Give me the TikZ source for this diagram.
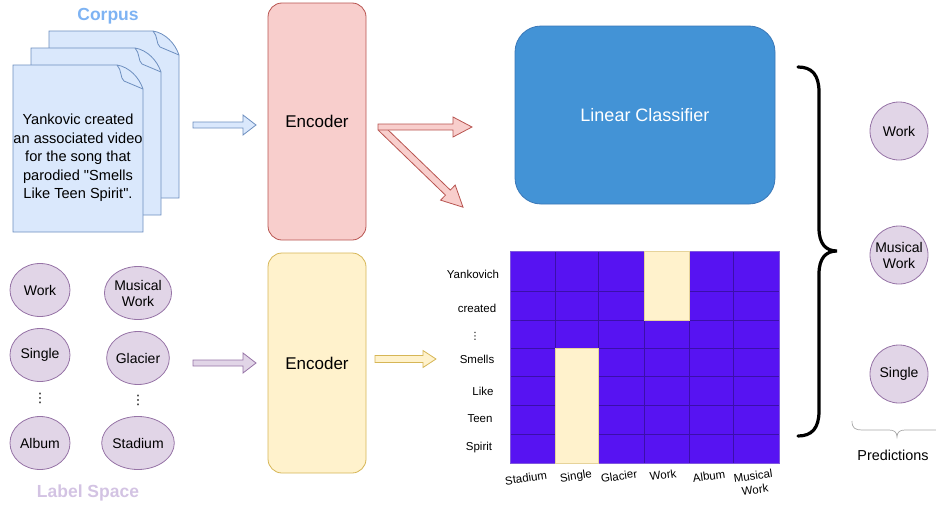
\documentclass[tikz,border=0pt]{standalone}
\usepackage{fontspec}
\setmainfont{Liberation Sans}[Ligatures=TeXOff]
\newfontfamily\dejavu{DejaVu Sans}
\usetikzlibrary{shapes.geometric}
\definecolor{docfill}{HTML}{DAE8FC}
\definecolor{docdraw}{HTML}{6C8EBF}
\definecolor{redfill}{HTML}{F8CECC}
\definecolor{reddraw}{HTML}{B85450}
\definecolor{yelfill}{HTML}{FFF2CC}
\definecolor{yeldraw}{HTML}{D6B656}
\definecolor{purfill}{HTML}{E1D5E7}
\definecolor{purdraw}{HTML}{9673A6}
\definecolor{clsfill}{HTML}{4393D6}
\definecolor{clsdraw}{HTML}{3A78B8}
\definecolor{cellfill}{HTML}{5713F2}
\definecolor{celldraw}{HTML}{3B0FAA}
\definecolor{corpuscol}{HTML}{7EB3F3}
\definecolor{labelcol}{HTML}{D3C3E3}
\newcommand\blockarrow[7]{%
  \begin{scope}[shift={(#2)},rotate=#3]
    \draw[#1] (0,-#5) -- ({#4-#7},-#5) -- ({#4-#7},-#6) -- (#4,0) -- ({#4-#7},#6) -- ({#4-#7},#5) -- (0,#5) -- cycle;
  \end{scope}}
\newcommand\docpage[2]{%
  \begin{scope}[shift={(#1,#2)}]
    \draw[docbox] (0,0) -- (104,0) .. controls (116,2) and (126,12) .. (130,24) -- (130,167) -- (0,167) -- cycle;
    \draw[docdraw, line width=0.8] (104,0) .. controls (109,5) and (107,13) .. (111,16) -- (130,24);
  \end{scope}}
\tikzset{
  docbox/.style={fill=docfill, draw=docdraw, line width=0.8},
  bluearr/.style={fill=docfill, draw=docdraw, line width=0.8},
  redarr/.style={fill=redfill, draw=reddraw, line width=0.8},
  yelarr/.style={fill=yelfill, draw=yeldraw, line width=0.8},
  purarr/.style={fill=purfill, draw=purdraw, line width=0.8},
  encred/.style={rectangle, rounded corners=14, fill=redfill, draw=reddraw, line width=0.8,
    minimum width=98, minimum height=237, font=\fontsize{17}{20}\selectfont},
  encyel/.style={rectangle, rounded corners=14, fill=yelfill, draw=yeldraw, line width=0.8,
    minimum width=98, minimum height=220, font=\fontsize{17}{20}\selectfont},
  lcirc/.style={ellipse, fill=purfill, draw=purdraw, line width=0.8, minimum width=60,
    minimum height=53, inner sep=0, align=center, font=\fontsize{14}{16}\selectfont},
  pcirc/.style={circle, fill=purfill, draw=purdraw, line width=0.8, minimum size=58,
    inner sep=0, align=center, font=\fontsize{14}{16}\selectfont},
  vdotsnode/.style={inner sep=0, font=\dejavu\fontsize{13}{14}\selectfont},
  rowlab/.style={font=\fontsize{11.5}{13}\selectfont, inner sep=0},
  collab/.style={font=\fontsize{11.5}{14}\selectfont, inner sep=0, rotate=8, align=center},
  title/.style={font=\fontsize{17.5}{20}\selectfont\bfseries},
}
\begin{document}
\begin{tikzpicture}[x=1pt,y=-1pt]
\useasboundingbox (0,0) rectangle (936,506);

% corpus
\node[title, text=corpuscol] (corpus) at (108,16) {Corpus};
\docpage{49}{31}
\docpage{31}{48}
\docpage{13}{65}
\node[align=center, font=\fontsize{14.6}{18.5}\selectfont] (doctext) at (78,158)
  {Yankovic created\\an associated video\\for the song that\\parodied "Smells\\Like Teen Spirit".};

% label space
\node[lcirc] (lwork) at (40,290) {Work};
\node[lcirc] (lsingle) at (40,355) {Single};
\node[vdotsnode] (ldots1) at (40,398) {⋮};
\node[lcirc] (lalbum) at (40,443) {Album};
\node[lcirc] (lmusical) at (138,293) {Musical\\Work};
\node[lcirc] (lglacier) at (138,358) {Glacier};
\node[vdotsnode] (ldots2) at (138,400) {⋮};
\node[lcirc] (lstadium) at (138,443) {Stadium};
\node[title, text=labelcol] (lspace) at (88,493) {Label Space};

% encoders
\node[encred] (enc1) at (317,121.5) {Encoder};
\node[encyel] (enc2) at (317,363) {Encoder};

% block arrows
\coordinate (ba1) at (193,125);
\coordinate (ba2) at (193,363);
\coordinate (ba3) at (375,359);
\coordinate (ba4) at (378,127);
\coordinate (ba5) at (381,128);
\blockarrow{bluearr}{ba1}{0}{63}{3}{10}{13}
\blockarrow{purarr}{ba2}{0}{63}{3}{10}{13}
\blockarrow{yelarr}{ba3}{0}{61}{3.5}{8.5}{13}
\blockarrow{redarr}{ba5}{-44}{114}{3.5}{10.5}{21}
\blockarrow{redarr}{ba4}{0}{94}{3}{10}{19}

% linear classifier
\node[rectangle, rounded corners=26, fill=clsfill, draw=clsdraw, line width=0.8,
  minimum width=260, minimum height=178, text=white, font=\fontsize{18}{21}\selectfont]
  (cls) at (645,115) {Linear Classifier};

% heatmap
\fill[cellfill] (510,251) rectangle (779,463);
\foreach \x in {555.3,598.7,644.3,689.7,733.3}
  \draw[celldraw, line width=0.9] (\x,251) -- (\x,463);
\foreach \y in {291.5,320.3,348.3,376.7,405,434}
  \draw[celldraw, line width=0.9] (510,\y) -- (779,\y);
\draw[draw=celldraw!50!cellfill!70!white, line width=0.9] (510,251) rectangle (779,463);
\draw[fill=yelfill, draw=yeldraw!60!white, line width=0.8] (644.3,251) rectangle (689.7,320.3);
\draw[fill=yelfill, draw=yeldraw!60!white, line width=0.8] (555.3,348.3) rectangle (598.7,463);
\node[rowlab] (r1) at (473,274) {Yankovich};
\node[rowlab] (r2) at (477,308) {created};
\node[inner sep=0, font=\dejavu\fontsize{10}{11}\selectfont] (r3) at (475,336) {⋮};
\node[rowlab] (r4) at (477,359) {Smells};
\node[rowlab] (r5) at (483,391) {Like};
\node[rowlab] (r6) at (480,419) {Teen};
\node[rowlab] (r7) at (479,448) {Spirit};
\node[collab] (c1) at (526,478) {Stadium};
\node[collab] (c2) at (576,477) {Single};
\node[collab] (c3) at (619,476) {Glacier};
\node[collab] (c4) at (663,475) {Work};
\node[collab] (c5) at (709,476) {Album};
\node[collab] (c6) at (754,483) {Musical\\Work};

% big brace
\draw[line width=3.2, line cap=round] (798,67) .. controls (812,67) and (819,75) .. (819,92)
  -- (819,228) .. controls (819,244) and (826,251) .. (837,251)
  .. controls (826,251) and (819,258) .. (819,274)
  -- (819,411) .. controls (819,428) and (812,436) .. (798,436);

% predictions
\node[pcirc] (pwork) at (899,131) {Work};
\node[pcirc] (pmusical) at (899,255) {Musical\\Work};
\node[pcirc] (psingle) at (899,374) {Single};
\draw[gray!70, line width=0.7] (852,421) .. controls (852,428) and (855,430) .. (862,430)
  -- (889,430) .. controls (894,430) and (897,432) .. (897,437)
  .. controls (897,432) and (900,430) .. (905,430) -- (936,430);
\node[font=\fontsize{14.4}{17}\selectfont] (pred) at (893,455) {Predictions};
\end{tikzpicture}
\end{document}
